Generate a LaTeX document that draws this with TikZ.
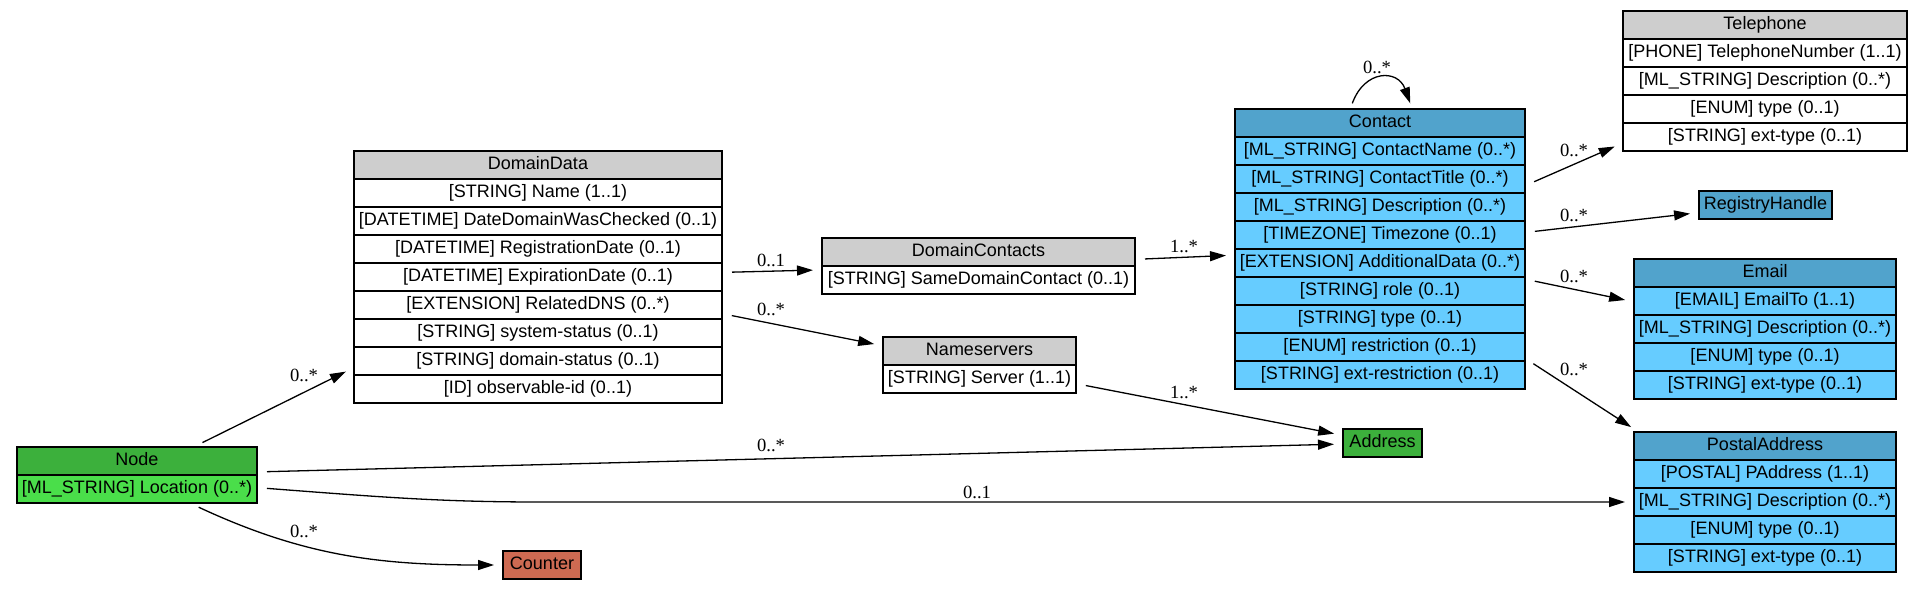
\documentclass[tikz,border=0pt]{standalone}
\usepackage{fontspec}
\setsansfont{Liberation Sans}
\newfontfamily\labelfont{Liberation Serif}
\usetikzlibrary{arrows.meta,positioning,fit}

\definecolor{hdrgray}{RGB}{206,206,206}
\definecolor{nodegreen}{RGB}{60,176,60}
\definecolor{rowgreen}{RGB}{74,222,74}
\definecolor{hdrblue}{RGB}{81,163,204}
\definecolor{rowblue}{RGB}{102,204,255}
\definecolor{counterred}{RGB}{205,106,82}

\begin{document}
\begin{tikzpicture}[
    x=0.5pt, y=-0.5pt,
    >={Triangle[length=8pt,width=5pt]},
    line width=0.65pt,
    cell/.style={draw=black, minimum width=#1, minimum height=14pt, inner sep=0pt, outer sep=0pt,
        text height=6.5pt, text depth=1.9pt, font=\sffamily\fontsize{9}{10}\selectfont},
    gray head/.style={cell=#1, fill=hdrgray},
    plain row/.style={cell=#1, fill=white},
    blue head/.style={cell=#1, fill=hdrblue},
    blue row/.style={cell=#1, fill=rowblue},
    green head/.style={cell=#1, fill=nodegreen},
    green row/.style={cell=#1, fill=rowgreen},
    tablebox/.style={inner sep=0pt, outer sep=0pt},
    link/.style={->, shorten <=5pt, shorten >=4.5pt},
    edge label/.style={font=\labelfont\fontsize{9.3}{10}\selectfont, inner sep=1pt}
]
    \useasboundingbox (0,0) rectangle (1923,594);

    % Node
    \node[green head=120pt] (nd0) at (137,461) {Node};
    \node[green row=120pt, below=0pt of nd0] (nd1) {[ML\_STRING] Location (0..*)};
    \node[tablebox, fit=(nd0)(nd1)] (nd) {};

    % DomainData
    \node[gray head=184pt] (dd0) at (538,165) {DomainData};
    \node[plain row=184pt, below=0pt of dd0] (dd1) {[STRING] Name (1..1)};
    \node[plain row=184pt, below=0pt of dd1] (dd2) {[DATETIME] DateDomainWasChecked (0..1)};
    \node[plain row=184pt, below=0pt of dd2] (dd3) {[DATETIME] RegistrationDate (0..1)};
    \node[plain row=184pt, below=0pt of dd3] (dd4) {[DATETIME] ExpirationDate (0..1)};
    \node[plain row=184pt, below=0pt of dd4] (dd5) {[EXTENSION] RelatedDNS (0..*)};
    \node[plain row=184pt, below=0pt of dd5] (dd6) {[STRING] system-status (0..1)};
    \node[plain row=184pt, below=0pt of dd6] (dd7) {[STRING] domain-status (0..1)};
    \node[plain row=184pt, below=0pt of dd7] (dd8) {[ID] observable-id (0..1)};
    \node[tablebox, fit=(dd0)(dd8)] (dd) {};

    % DomainContacts
    \node[gray head=156.5pt] (dc0) at (978.5,252) {DomainContacts};
    \node[plain row=156.5pt, below=0pt of dc0] (dc1) {[STRING] SameDomainContact (0..1)};
    \node[tablebox, fit=(dc0)(dc1)] (dc) {};

    % Nameservers
    \node[gray head=96.5pt] (ns0) at (979.5,351) {Nameservers};
    \node[plain row=96.5pt, below=0pt of ns0] (ns1) {[STRING] Server (1..1)};
    \node[tablebox, fit=(ns0)(ns1)] (ns) {};

    % Contact
    \node[blue head=145pt] (co0) at (1380,123) {Contact};
    \node[blue row=145pt, below=0pt of co0] (co1) {[ML\_STRING] ContactName (0..*)};
    \node[blue row=145pt, below=0pt of co1] (co2) {[ML\_STRING] ContactTitle (0..*)};
    \node[blue row=145pt, below=0pt of co2] (co3) {[ML\_STRING] Description (0..*)};
    \node[blue row=145pt, below=0pt of co3] (co4) {[TIMEZONE] Timezone (0..1)};
    \node[blue row=145pt, below=0pt of co4] (co5) {[EXTENSION] AdditionalData (0..*)};
    \node[blue row=145pt, below=0pt of co5] (co6) {[STRING] role (0..1)};
    \node[blue row=145pt, below=0pt of co6] (co7) {[STRING] type (0..1)};
    \node[blue row=145pt, below=0pt of co7] (co8) {[ENUM] restriction (0..1)};
    \node[blue row=145pt, below=0pt of co8] (co9) {[STRING] ext-restriction (0..1)};
    \node[tablebox, fit=(co0)(co9)] (co) {};

    % Telephone
    \node[gray head=142pt] (tel0) at (1765,25) {Telephone};
    \node[plain row=142pt, below=0pt of tel0] (tel1) {[PHONE] TelephoneNumber (1..1)};
    \node[plain row=142pt, below=0pt of tel1] (tel2) {[ML\_STRING] Description (0..*)};
    \node[plain row=142pt, below=0pt of tel2] (tel3) {[ENUM] type (0..1)};
    \node[plain row=142pt, below=0pt of tel3] (tel4) {[STRING] ext-type (0..1)};
    \node[tablebox, fit=(tel0)(tel4)] (tel) {};

    % RegistryHandle
    \node[blue head=66.5pt] (rh) at (1765.5,205) {RegistryHandle};

    % Email
    \node[blue head=131pt] (em0) at (1765,273) {Email};
    \node[blue row=131pt, below=0pt of em0] (em1) {[EMAIL] EmailTo (1..1)};
    \node[blue row=131pt, below=0pt of em1] (em2) {[ML\_STRING] Description (0..*)};
    \node[blue row=131pt, below=0pt of em2] (em3) {[ENUM] type (0..1)};
    \node[blue row=131pt, below=0pt of em3] (em4) {[STRING] ext-type (0..1)};
    \node[tablebox, fit=(em0)(em4)] (em) {};

    % PostalAddress
    \node[blue head=131pt] (pa0) at (1765,446) {PostalAddress};
    \node[blue row=131pt, below=0pt of pa0] (pa1) {[POSTAL] PAddress (1..1)};
    \node[blue row=131pt, below=0pt of pa1] (pa2) {[ML\_STRING] Description (0..*)};
    \node[blue row=131pt, below=0pt of pa2] (pa3) {[ENUM] type (0..1)};
    \node[blue row=131pt, below=0pt of pa3] (pa4) {[STRING] ext-type (0..1)};
    \node[tablebox, fit=(pa0)(pa4)] (pa) {};

    % Address, Counter
    \node[green head=39.5pt] (ad) at (1382.5,443) {Address};
    \node[cell=39pt, fill=counterred] (ct) at (542,565) {Counter};

    % edges
    \draw[link] (nd) -- (dd) node[edge label] (l1) at (304,375) {0..*};
    \draw[link] (nd) -- (ad) node[edge label] (l2) at (771,445) {0..*};
    \draw[link] (nd.-6) .. controls (380,497) and (440,502) .. (540,502) -- (pa.west)
        node[edge label] (l3) at (977,492) {0..1};
    \draw[link] (nd.-28) to[out=-25, in=180] (ct) node[edge label] (l4) at (304,531) {0..*};

    \draw[link] (dd) -- (dc) node[edge label] (l5) at (771,260) {0..1};
    \draw[link] (dd) -- (ns) node[edge label] (l6) at (771,309) {0..*};
    \draw[link] (dc) -- (co) node[edge label] (l7) at (1184,246) {1..*};
    \draw[link] (ns) -- (ad) node[edge label] (l8) at (1184,392) {1..*};

    \draw[link, shorten <=3pt, shorten >=3pt] (co.102) to[out=70, in=110, looseness=1.75] (co.77)
        node[edge label] (l9) at (1377,67) {0..*};
    \draw[link] (co) -- (tel) node[edge label] (l10) at (1574,150) {0..*};
    \draw[link] (co) -- (rh) node[edge label] (l11) at (1574,215) {0..*};
    \draw[link] (co) -- (em) node[edge label] (l12) at (1574,276) {0..*};
    \draw[link] (co.-37) -- (pa.151) node[edge label] (l13) at (1574,369) {0..*};
\end{tikzpicture}
\end{document}
